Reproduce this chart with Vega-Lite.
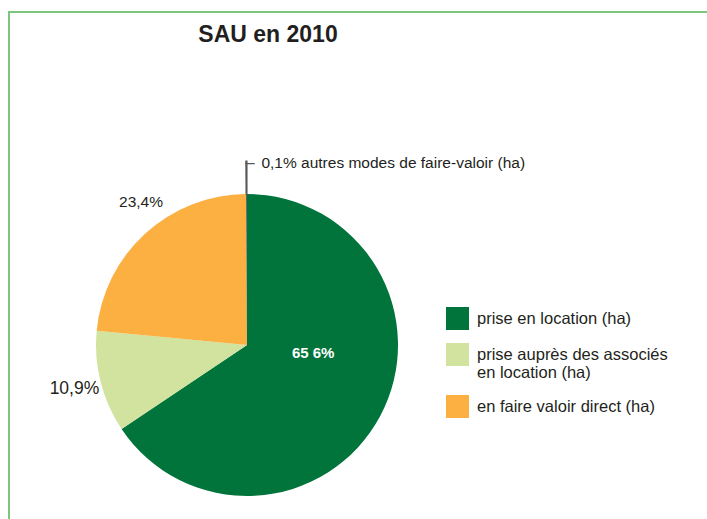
{
  "$schema": "https://vega.github.io/schema/vega-lite/v6.json",
  "width": 700,
  "height": 515,
  "autosize": {"type": "none"},
  "padding": {"left": 9, "top": 12, "right": 0, "bottom": 0},
  "background": "white",
  "view": {"stroke": "#7cc57e", "strokeWidth": 2, "fill": "white"},
  "config": {
    "font": "Liberation Sans"
  },
  "title": {
    "text": "SAU en 2010",
    "font": "Liberation Sans",
    "fontSize": 23,
    "fontWeight": "bold",
    "color": "#231f20",
    "anchor": "middle",
    "baseline": "alphabetic",
    "offset": 0,
    "dx": -91,
    "dy": 53
  },
  "data": {
    "values": [
      {"categorie": "prise en location (ha)", "part": 65.6, "etiquette": "65 6%", "ordre": 1},
      {"categorie": "prise auprès des associés en location (ha)", "part": 10.9, "etiquette": "10,9%", "ordre": 2},
      {"categorie": "en faire valoir direct (ha)", "part": 23.4, "etiquette": "23,4%", "ordre": 3},
      {"categorie": "autres modes de faire-valoir (ha)", "part": 0.1, "etiquette": "0,1% autres modes de faire-valoir (ha)", "ordre": 4}
    ]
  },
  "encoding": {
    "theta": {"field": "part", "type": "quantitative", "stack": true},
    "order": {"field": "ordre", "type": "quantitative"}
  },
  "layer": [
    {
      "mark": {"type": "arc", "x": 238, "y": 333, "radius": 151},
      "encoding": {
        "color": {
          "field": "categorie",
          "type": "nominal",
          "scale": {
            "domain": ["prise en location (ha)", "prise auprès des associés en location (ha)", "en faire valoir direct (ha)", "autres modes de faire-valoir (ha)"],
            "range": ["#00743b", "#d1e39f", "#fbb041", "#58595b"]
          },
          "legend": {
            "values": ["prise en location (ha)", "prise auprès des associés en location (ha)", "en faire valoir direct (ha)"],
            "title": null,
            "orient": "none",
            "legendX": 437,
            "legendY": 295,
            "symbolType": "square",
            "symbolSize": 529,
            "symbolStrokeWidth": 0,
            "labelFont": "Liberation Sans",
            "labelFontSize": 16.5,
            "labelColor": "#231f20",
            "labelOffset": 8,
            "labelLimit": 300,
            "rowPadding": 13,
            "labelExpr": "datum.label === 'prise auprès des associés en location (ha)' ? ['prise auprès des associés', 'en location (ha)'] : datum.label"
          }
        }
      }
    },
    {
      "mark": {"type": "arc", "x": 238, "y": 333, "radius": 184, "radius2": 151, "strokeWidth": 1.1},
      "encoding": {
        "fill": {"value": "#58595b"},
        "stroke": {"value": "#58595b"},
        "opacity": {"condition": {"test": "datum.categorie === 'autres modes de faire-valoir (ha)'", "value": 1}, "value": 0}
      }
    },
    {
      "mark": {"type": "text", "x": 238, "y": 333, "radius": 75, "dy": -27, "fontSize": 15, "fontWeight": "bold", "color": "white", "font": "Liberation Sans"},
      "encoding": {
        "text": {"condition": {"test": "datum.categorie === 'prise en location (ha)'", "field": "etiquette"}, "value": ""}
      }
    },
    {
      "mark": {"type": "text", "x": 238, "y": 333, "radius": 178, "fontSize": 17.5, "color": "#231f20", "font": "Liberation Sans"},
      "encoding": {
        "text": {"condition": {"test": "datum.categorie === 'prise auprès des associés en location (ha)'", "field": "etiquette"}, "value": ""}
      }
    },
    {
      "mark": {"type": "text", "x": 238, "y": 333, "radius": 194, "dx": 25, "fontSize": 15.5, "color": "#231f20", "font": "Liberation Sans"},
      "encoding": {
        "text": {"condition": {"test": "datum.categorie === 'en faire valoir direct (ha)'", "field": "etiquette"}, "value": ""}
      }
    },
    {
      "mark": {"type": "text", "x": 238, "y": 333, "radius": 185, "dx": 15, "dy": 3, "align": "left", "baseline": "middle", "fontSize": 15.5, "color": "#231f20", "font": "Liberation Sans"},
      "encoding": {
        "text": {"condition": {"test": "datum.categorie === 'autres modes de faire-valoir (ha)'", "field": "etiquette"}, "value": ""}
      }
    },
    {
      "mark": {"type": "text", "x": 238, "y": 333, "radius": 184, "dx": -1, "dy": 3, "align": "left", "baseline": "middle", "fontSize": 15, "fontWeight": "bold", "color": "#58595b", "font": "DejaVu Sans"},
      "encoding": {
        "text": {"condition": {"test": "datum.categorie === 'autres modes de faire-valoir (ha)'", "value": "─"}, "value": ""}
      }
    }
  ]
}
